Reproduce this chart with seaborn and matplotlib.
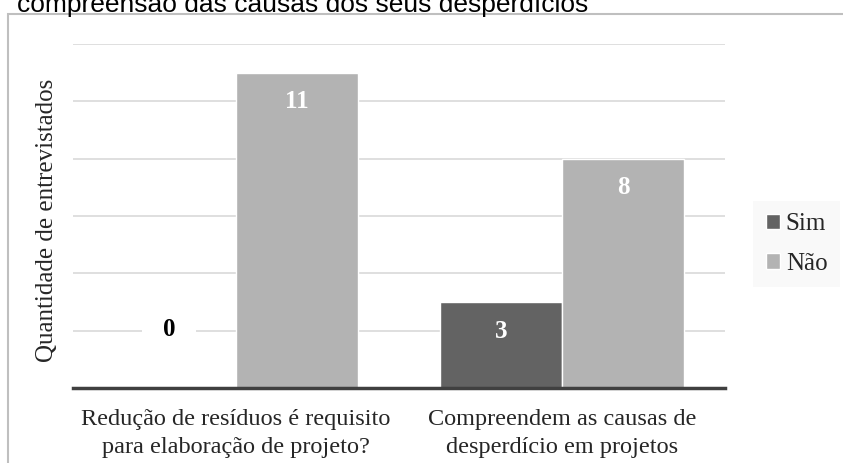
import numpy as np
import matplotlib
matplotlib.use("Agg")
import matplotlib.pyplot as plt
import pandas as pd
import seaborn as sns
from matplotlib.patches import Rectangle

# data
categorias = ['Redução de resíduos é requisito\npara elaboração de projeto?',
              'Compreendem as causas de\ndesperdício em projetos']
sim = [0, 3]
nao = [11, 8]
respostas = ['Sim', 'Não']
cores = {'Sim': '#636363', 'Não': '#b3b3b3'}

df = pd.DataFrame({
    'categoria': categorias * 2,
    'resposta': ['Sim'] * 2 + ['Não'] * 2,
    'valor': sim + nao,
})

sns.set_theme(style='white')
plt.rcParams['font.family'] = ['Liberation Serif', 'DejaVu Serif']

fig = plt.figure(figsize=(8.43, 4.63), dpi=100)
ax = fig.add_axes([73 / 843, 1 - 388 / 463, (725 - 73) / 843, (388 - 44) / 463])

# outer chart frame (cut off on the right and bottom, as in the source)
fig.patches.append(Rectangle((8 / 843, -0.1), 1.2, (1 - 14 / 463) + 0.1,
                             transform=fig.transFigure, fill=False,
                             edgecolor='#bfbfbf', linewidth=1.5, zorder=0))

sns.barplot(data=df, x='categoria', y='valor', hue='resposta',
            hue_order=respostas, palette=cores, width=0.75, ax=ax,
            saturation=1, zorder=3)

ax.set_xlim(-0.5, 1.5)
ax.set_ylim(0, 12)
ax.set_yticks(np.arange(2, 13, 2))
ax.set_yticklabels([])
ax.tick_params(axis='y', length=0)
ax.tick_params(axis='x', length=0, pad=15, labelsize=17.5)
ax.yaxis.grid(True, color='#d9d9d9', linewidth=1.2, zorder=0)
ax.set_axisbelow(True)
for s in ['top', 'right', 'left']:
    ax.spines[s].set_visible(False)
ax.spines['bottom'].set_color('#404040')
ax.spines['bottom'].set_linewidth(2.5)
ax.spines['bottom'].set_zorder(5)
ax.set_xlabel('')
ax.set_ylabel('')
for lbl in ax.get_xticklabels():
    lbl.set_linespacing(1.42)

fig.text(47 / 843, 1 - 220 / 463, 'Quantidade de entrevistados', fontsize=18,
         rotation=90, ha='center', va='center')

# value labels
for cont, resp in zip(ax.containers, respostas):
    for rect in cont:
        v = rect.get_height()
        xc = rect.get_x() + rect.get_width() / 2
        if v == 0:
            ax.annotate(f'{v:.0f}', (xc, v), xytext=(-4, 42),
                        textcoords='offset points', ha='center', va='center',
                        fontsize=18, fontweight='bold', color='black',
                        bbox=dict(facecolor='white', edgecolor='none', pad=15),
                        zorder=6)
        else:
            ax.annotate(f'{v:.0f}', (xc, v), xytext=(0, -21),
                        textcoords='offset points', ha='center', va='center',
                        fontsize=18, fontweight='bold', color='white', zorder=6)

leg = ax.legend(loc='center left', bbox_to_anchor=(753 / 843, 1 - 244 / 463),
                bbox_transform=fig.transFigure, fontsize=18, frameon=True,
                handlelength=0.56, handleheight=0.56, handletextpad=0.25,
                labelspacing=0.7, borderpad=0.5, borderaxespad=0,
                fancybox=False, title=None)
leg.get_frame().set_facecolor('#f8f8f8')
leg.get_frame().set_edgecolor('none')

# title line, mostly cut off at the top of the source image
fig.text(17 / 843, 1 - 12 / 463, 'compreensão das causas dos seus desperdícios',
         family=['Liberation Sans', 'DejaVu Sans'], fontsize=19,
         ha='left', va='baseline', color='black')

fig.savefig('out.png', dpi=100)
